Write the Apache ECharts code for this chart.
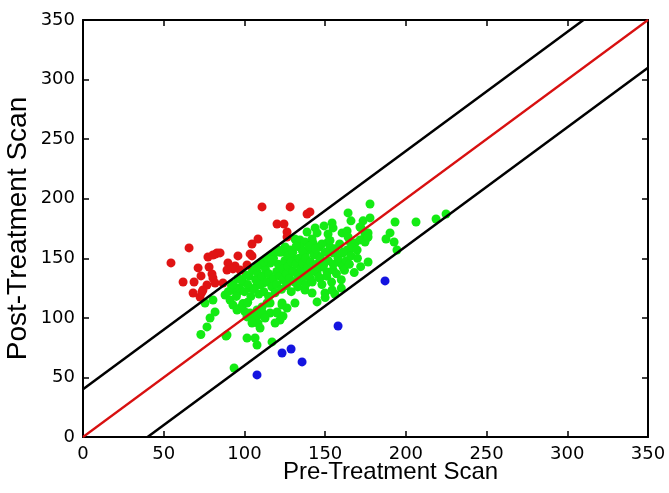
<!DOCTYPE html>
<html>
<head>
<meta charset="utf-8">
<script src="https://cdn.jsdelivr.net/npm/echarts@6/dist/echarts.min.js"></script>
<style>html,body{margin:0;padding:0;background:#fff;}#c{width:669px;height:493px;}</style>
</head>
<body>
<div id="c"></div>
<script>
const xTicks = [0, 50, 100, 150, 200, 250, 300, 350];
const yTicks = [0, 50, 100, 150, 200, 250, 300, 350];

const redPoints = [
  [54.5,146.1],[65.7,158.7],[62.0,130.1],[68.8,130.1],[71.3,141.9],[73.1,135.2],[77.4,151.1],
  [78.1,142.7],[79.9,136.9],[80.5,133.5],[82.4,153.7],[68.2,120.9],[73.7,121.7],[72.5,117.5],
  [76.8,127.6],[110.9,193.1],[128.3,193.1],[138.8,187.2],[140.6,188.9],[120.2,178.8],[124.5,178.8],
  [126.4,172.1],[126.4,167.9],[108.4,166.2],[104.7,162.0],[83.0,154.5],[84.9,154.5],[80.5,152.8],
  [96.0,152.0],[103.5,153.7],[104.7,152.0],[89.8,146.1],[94.2,143.6],[92.9,141.1],[97.3,140.2],
  [89.2,140.2],[81.8,129.3],[74.3,123.4],[86.7,129.3],[101.6,144.4]
];

const bluePoints = [
  [187.1,131.0],[158.0,93.2],[123.3,70.5],[128.9,73.9],[135.7,63.0],[107.8,52.1]
];

const greenPoints = [
  [193.3,180.5],[206.3,180.5],[218.7,183.0],[224.9,187.2],[190.2,171.3],[187.7,166.2],[192.7,163.7],[194.5,157.0],
  [177.8,195.6],[164.2,188.1],[166.0,181.4],[173.5,181.4],[177.8,183.9],[176.6,146.9],
  [172.2,175.5],[174.7,169.6],[176.0,167.1],
  [149.3,177.2],[154.3,179.7],[154.9,175.5],[143.8,175.5],[145.0,171.3],[138.8,172.1],[151.8,170.4],
  [160.5,171.3],[163.6,173.0],[171.6,176.3],[176.6,171.3],
  [131.3,166.2],[134.4,165.4],[137.5,163.7],[141.9,166.2],[142.5,162.9],[146.2,159.5],[151.8,163.7],
  [153.0,159.5],[164.2,167.9],[165.4,163.7],[168.5,162.9],[171.6,165.4],[174.7,163.7],[176.6,167.9],
  [125.2,159.5],[128.3,157.0],[123.9,155.3],[134.4,159.5],[138.8,157.0],[137.5,152.8],[142.5,157.0],
  [145.0,152.8],[146.8,148.6],[154.9,154.5],[158.0,152.8],[161.1,154.5],[163.6,157.0],[166.7,158.7],[169.8,157.0],
  [126.4,148.6],[130.1,150.3],[133.2,146.1],[138.8,146.1],[142.5,142.7],[148.1,142.7],[159.2,146.1],[161.1,142.7],
  [123.3,141.9],[128.3,140.2],[132.6,137.7],[138.8,138.5],[145.0,137.7],[151.2,138.5],[154.9,140.2],
  [134.4,133.5],[140.6,133.5],[146.8,133.5],
  [75.6,112.5],[80.5,115.0],[81.8,105.0],[78.7,99.9],[76.8,92.4],[88.0,119.2],[91.1,115.0],[92.9,110.8],
  [95.4,106.6],[98.5,109.2],[101.6,112.5],[92.3,123.4],[95.4,120.9],[103.5,125.1],[107.8,127.6],[111.5,129.3],
  [115.9,131.8],[100.4,105.0],[101.6,100.8],[104.7,102.4],[106.6,98.2],[108.4,95.7],[109.7,91.5],[107.8,106.6],
  [110.9,109.2],[114.0,112.5],[115.9,104.1],[120.2,104.1],[122.1,98.2],[119.0,95.7],[123.3,112.5],[126.4,108.3],
  [101.6,83.1],[106.6,83.1],[107.8,77.2],[117.1,79.8],[89.2,85.6],
  [88.6,84.8],[93.6,57.9],[103.5,104.1],[108.4,102.4],[110.9,105.0],[112.8,99.9],[104.7,95.7],[120.2,105.0],
  [123.9,101.6],[115.9,112.5],[123.3,110.8],[131.3,112.5],[137.5,123.4],[141.9,120.9],[145.0,113.4],
  [149.9,120.9],[154.3,123.4],[73.0,86.0],
  [95,118],[97,125],[99,130],[100,122],[102,128],[103,135],[104,118],[105,140],[106,124],[107,132],[108,138],
  [109,120],[110,128],[110,145],[111,135],[112,122],[113,141],[114,130],[115,137],[115,118],[116,146],[117,126],
  [118,133],[118,150],[119,121],[120,139],[120,128],[121,145],[122,135],[122,155],[123,124],[124,141],[124,132],
  [125,148],[126,137],[126,127],[127,152],[127,143],[128,133],[129,147],[129,122],[130,139],[130,155],[131,130],
  [132,145],[132,160],[133,136],[133,126],[134,150],[135,141],[135,131],[136,156],[136,146],[137,135],[138,150],
  [138,128],[139,142],[140,160],[140,136],[141,147],[142,130],[143,153],[143,140],[144,158],[145,145],[146,134],
  [147,150],[148,162],[148,128],[149,144],[150,155],[151,135],[152,148],[153,165],[154,130],[155,145],[156,158],
  [157,137],[158,150],[159,162],[160,132],[161,155],[162,140],[163,148],[165,145],[166,152],[168,138],[170,150],
  [172,143],[160,125],[156,120],[150,117],
  [96,133],[98,132],[101,136],[99,112],[94,126],[92,127],[90,122],[93,128],[97,108],[102,113],
  [108,143],[112,147],[114,150],[116,152],[119,155],[117,149],[121,157]
];

const refLine = [[0,0],[350,350]];
const upperLine = [[0,40],[310,350]];
const lowerLine = [[40,0],[350,310]];

const TICKFONT = 'DejaVu Sans';
const TITLEFONT = 'Liberation Sans';
const chart = echarts.init(document.getElementById('c'), null, {renderer:'canvas'});

function baseAxis(pos, show) {
  return {
    type: 'value', min: 0, max: 350, interval: 50, position: pos,
    axisLine: {show: true, onZero: false, lineStyle: {color: '#000', width: 2}},
    axisTick: {show: true, inside: true, length: 6, lineStyle: {color: '#000', width: 1.5}},
    axisLabel: {show: show, color: '#000', fontSize: 18, fontFamily: TICKFONT, margin: 8},
    splitLine: {show: false}
  };
}

const xMain = baseAxis('bottom', true);
xMain.name = 'Pre-Treatment Scan';
xMain.nameLocation = 'middle';
xMain.nameGap = 23;
xMain.nameMoveOverlap = false;
xMain.nameTextStyle = {color: '#000', fontSize: 24, fontFamily: TITLEFONT, verticalAlign: 'top', padding: [0, 0, 0, 50]};
const xTop = baseAxis('top', false);

const yMain = baseAxis('left', true);
yMain.name = 'Post-Treatment Scan';
yMain.nameLocation = 'middle';
yMain.nameGap = 51;
yMain.nameMoveOverlap = false;
yMain.nameTextStyle = {color: '#000', fontSize: 28, fontFamily: TITLEFONT};
const yRight = baseAxis('right', false);

const dot = 9;
chart.setOption({
  animation: false,
  backgroundColor: '#fff',
  grid: {left: 83, right: 21, top: 20, bottom: 56, containLabel: false, outerBoundsMode: 'none'},
  xAxis: [xMain, xTop],
  yAxis: [yMain, yRight],
  series: [
    {type: 'scatter', data: greenPoints, symbolSize: dot, itemStyle: {color: '#14eb14', opacity: 1}, z: 2},
    {type: 'scatter', data: redPoints, symbolSize: dot, itemStyle: {color: '#e01414', opacity: 1}, z: 2},
    {type: 'scatter', data: bluePoints, symbolSize: dot, itemStyle: {color: '#1414e0', opacity: 1}, z: 2},
    {type: 'line', data: upperLine, symbol: 'none', lineStyle: {color: '#000', width: 2.5}, z: 3},
    {type: 'line', data: lowerLine, symbol: 'none', lineStyle: {color: '#000', width: 2.5}, z: 3},
    {type: 'line', data: refLine, symbol: 'none', lineStyle: {color: '#d81010', width: 2.2}, z: 3}
  ]
});
</script>
</body>
</html>
